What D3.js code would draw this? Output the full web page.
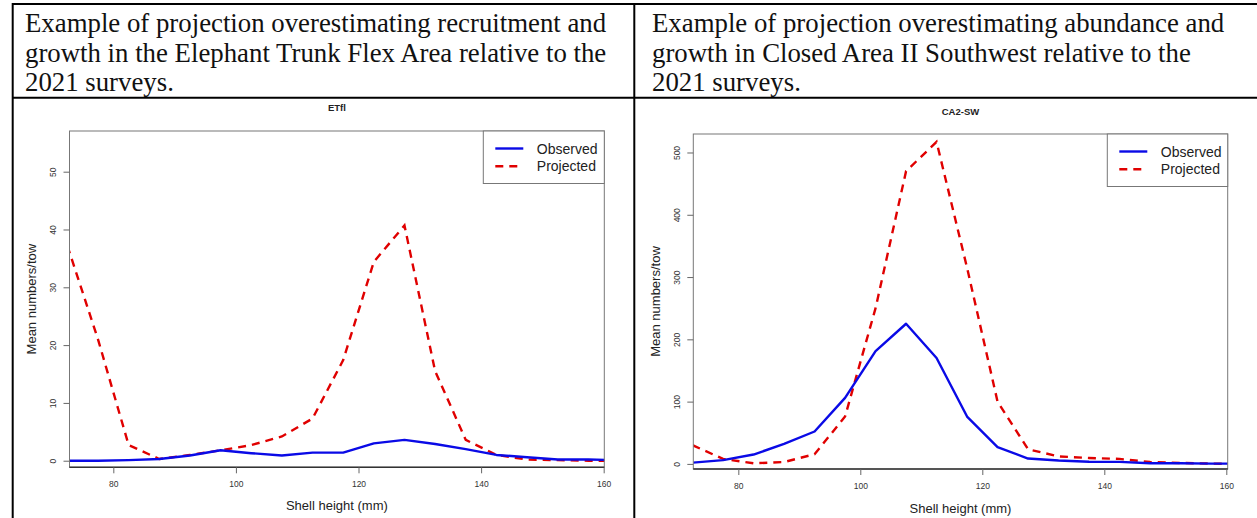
<!DOCTYPE html>
<html><head><meta charset="utf-8">
<script src="https://cdn.jsdelivr.net/npm/d3@7"></script>
<style>body{margin:0;background:#fff;overflow:hidden}</style>
</head><body><svg id="c" width="1257" height="518"></svg>
<script>
// ---- data ----
const shellHeight = [72.5,77.5,82.5,87.5,92.5,97.5,102.5,107.5,112.5,117.5,122.5,127.5,132.5,137.5,142.5,147.5,152.5,157.5,162.5];
const etflObserved  = [0,0,0.1,0.3,0.9,1.8,1.3,0.9,1.4,1.4,3.0,3.6,2.9,2.0,1.0,0.6,0.2,0.2,0.1];
const etflProjected = [37.2,21,2.7,0.3,1.0,1.8,2.7,4.2,7.3,17.4,34.4,40.7,15.5,3.6,1.0,0.2,0.1,0,0];
const ca2swObserved  = [2,6,15,32,52,106,181,225,170,76,27,8.6,5.5,3.5,3.2,1,1,0.5,0.5];
const ca2swProjected = [30,8,1,3,15.5,76,250,470,517,315,100,23.5,12,9.5,8,3,1.5,0.5,0];
const xTicks = [80,100,120,140,160];
const etflYTicks = [0,10,20,30,40,50];
const ca2swYTicks = [0,100,200,300,400,500];
const seriesNames = ["Observed","Projected"];
const panelTitles = ["ETfl","CA2-SW"];
const captionLeft = ["Example of projection overestimating recruitment and","growth in the Elephant Trunk Flex Area relative to the","2021 surveys."];
const captionRight = ["Example of projection overestimating abundance and","growth in Closed Area II Southwest relative to the","2021 surveys."];
const xLabel = "Shell height (mm)";
const yLabel = "Mean numbers/tow";

// ---- layout ----
const svg = d3.select("#c");
svg.append("rect").attr("width",1257).attr("height",518).attr("fill","#fff");

// table borders
const B = svg.append("g").attr("stroke","#000").attr("stroke-width",2);
B.append("line").attr("x1",12).attr("x2",1257).attr("y1",4).attr("y2",4);
B.append("line").attr("x1",12.7).attr("x2",12.7).attr("y1",3).attr("y2",518);
B.append("line").attr("x1",634.3).attr("x2",634.3).attr("y1",3).attr("y2",518);
B.append("line").attr("x1",12).attr("x2",1257).attr("y1",97.7).attr("y2",97.7);

function caption(lines, x){
  const t = svg.append("g").attr("font-family","'Liberation Serif','Times New Roman',serif")
    .attr("font-size",26.8).attr("fill","#111");
  lines.forEach((s,i)=>t.append("text").attr("x",x).attr("y",32.3+i*29.2).text(s));
}
caption(captionLeft, 25);
caption(captionRight, 652);

const panels = [
  {title:panelTitles[0], obs:etflObserved, proj:etflProjected, yTicks:etflYTicks,
   x0:69.5,x1:604.3,y0:131,y1:467.3, xd:[72.85,160.1], yd:[-1.14,57.04],
   titleY:108, xlabY:505, ylabX:31, lw:121},
  {title:panelTitles[1], obs:ca2swObserved, proj:ca2swProjected, yTicks:ca2swYTicks,
   x0:693.3,x1:1227.7,y0:134,y1:469, xd:[72.62,160.23], yd:[-8.2,529.7],
   titleY:112, xlabY:508, ylabX:655, lw:120.4}
];
const colObs = "#0a0ae6", colProj = "#e00000";

panels.forEach((p,pi)=>{
  const x = d3.scaleLinear().domain(p.xd).range([p.x0,p.x1]);
  const y = d3.scaleLinear().domain(p.yd).range([p.y1,p.y0]);
  const g = svg.append("g").attr("font-family","Arial,'Liberation Sans',sans-serif");
  const cid = "clip"+pi;
  svg.append("clipPath").attr("id",cid).append("rect")
    .attr("x",p.x0).attr("y",p.y0).attr("width",p.x1-p.x0).attr("height",p.y1-p.y0);

  // title
  g.append("text").attr("x",(p.x0+p.x1)/2).attr("y",p.titleY).attr("dy","0.35em")
    .attr("text-anchor","middle").attr("font-weight","bold").attr("font-size",9.5)
    .attr("fill","#222").text(p.title);

  // lines
  const data = shellHeight.map((h,i)=>({h, o:p.obs[i], r:p.proj[i]}));
  const lineO = d3.line().x(d=>x(d.h)).y(d=>y(d.o));
  const lineR = d3.line().x(d=>x(d.h)).y(d=>y(d.r));
  const lg = g.append("g").attr("clip-path",`url(#${cid})`);
  lg.append("path").datum(data).attr("d",lineR).attr("fill","none")
    .attr("stroke",colProj).attr("stroke-width",2.4).attr("stroke-dasharray","8,6");
  lg.append("path").datum(data).attr("d",lineO).attr("fill","none")
    .attr("stroke",colObs).attr("stroke-width",2.4).attr("stroke-linejoin","round");

  // box
  g.append("rect").attr("x",p.x0).attr("y",p.y0).attr("width",p.x1-p.x0).attr("height",p.y1-p.y0)
    .attr("fill","none").attr("stroke","#777").attr("stroke-width",1);

  // x axis
  const xa = g.append("g").attr("transform",`translate(0,${p.y1})`)
    .call(d3.axisBottom(x).tickValues(xTicks).tickSize(6).tickPadding(8).tickFormat(d3.format("d")));
  xa.select(".domain").attr("d",`M${p.x0},0H${p.x1}`).attr("stroke","#333").attr("stroke-width",1.6);
  xa.selectAll(".tick line").attr("stroke","#666");
  xa.selectAll(".tick text").attr("font-size",8.5).attr("fill","#333").attr("font-family","Arial,'Liberation Sans',sans-serif");

  // y axis
  const ya = g.append("g").attr("transform",`translate(${p.x0},0)`)
    .call(d3.axisLeft(y).tickValues(p.yTicks).tickSize(6).tickFormat(d3.format("d")));
  ya.select(".domain").remove();
  ya.selectAll(".tick line").attr("stroke","#666");
  ya.selectAll(".tick text").attr("font-size",8.5).attr("fill","#333")
    .attr("font-family","Arial,'Liberation Sans',sans-serif")
    .attr("x",null).attr("dy","0.35em").attr("text-anchor","middle")
    .attr("transform","translate(-16.2,0) rotate(-90)");

  // axis titles
  g.append("text").attr("x",(p.x0+p.x1)/2).attr("y",p.xlabY).attr("dy","0.35em")
    .attr("text-anchor","middle").attr("font-size",13).attr("fill","#222").text(xLabel);
  g.append("text").attr("transform",`translate(${p.ylabX},${(p.y0+p.y1)/2}) rotate(-90)`)
    .attr("dy","0.35em").attr("text-anchor","middle").attr("font-size",13).attr("fill","#222").text(yLabel);

  // legend
  const lx = p.x1 - p.lw, ly = p.y0;
  const L = g.append("g");
  L.append("rect").attr("x",lx).attr("y",ly).attr("width",p.lw).attr("height",52.5)
    .attr("fill","#fff").attr("stroke","#777").attr("stroke-width",1);
  [colObs,colProj].forEach((c,i)=>{
    L.append("line").attr("x1",lx+12).attr("x2",lx+40).attr("y1",ly+17.5+i*17.8).attr("y2",ly+17.5+i*17.8)
      .attr("stroke",c).attr("stroke-width",2.4).attr("stroke-dasharray",i?"8,6":null);
    L.append("text").attr("x",lx+53.5).attr("y",ly+22.8+i*17.5).attr("font-size",14)
      .attr("fill","#222").text(seriesNames[i]);
  });
});
</script></body></html>
